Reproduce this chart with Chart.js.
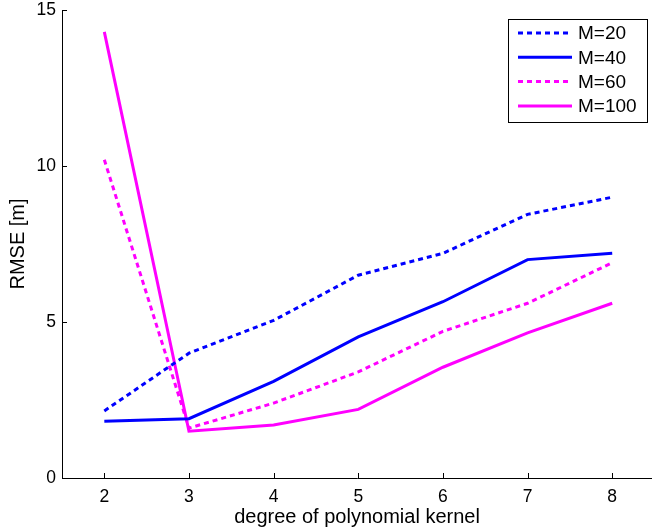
<!DOCTYPE html>
<html><head><meta charset="utf-8">
<script src="https://cdn.jsdelivr.net/npm/chart.js@4/dist/chart.umd.min.js"></script>
<style>html,body{margin:0;padding:0;background:#fff}#wrap{width:652px;height:531px}</style>
</head><body><div id="wrap"><canvas id="c" width="652" height="531"></canvas></div>
<script>
const degrees = [2, 3, 4, 5, 6, 7, 8];
const m20 = [2.15, 4.0, 5.05, 6.5, 7.2, 8.45, 9.0];
const m40 = [1.82, 1.9, 3.1, 4.52, 5.65, 7.0, 7.2];
const m60 = [10.2, 1.6, 2.4, 3.4, 4.7, 5.6, 6.9];
const m100 = [14.3, 1.5, 1.7, 2.2, 3.55, 4.65, 5.6];
const xTicks = [2, 3, 4, 5, 6, 7, 8];
const yTicks = [0, 5, 10, 15];
const seriesNames = ['M=20', 'M=40', 'M=60', 'M=100'];

const FONT = 'Liberation Sans, Arial, Helvetica, sans-serif';
const pts = arr => degrees.map((d, i) => ({x: d, y: arr[i]}));
const BLUE = '#0000ff', MAG = '#ff00ff';
const mk = (label, arr, color, dashed) => ({
  label, data: pts(arr), borderColor: color, backgroundColor: color,
  borderWidth: 3, borderDash: dashed ? [5, 4] : [], pointRadius: 0, tension: 0, fill: false
});

const axisPlugin = {
  id: 'axisTicks',
  afterDraw(chart) {
    const ctx = chart.ctx, xs = chart.scales.x, ys = chart.scales.y, a = chart.chartArea;
    ctx.save();
    ctx.strokeStyle = '#000'; ctx.lineWidth = 1;
    ctx.beginPath();
    ctx.moveTo(a.left + 0.5, a.top); ctx.lineTo(a.left + 0.5, a.bottom + 0.5); ctx.lineTo(a.right, a.bottom + 0.5);
    xTicks.forEach(v => { const px = Math.round(xs.getPixelForValue(v)) + 0.5; ctx.moveTo(px, a.bottom); ctx.lineTo(px, a.bottom - 5); });
    yTicks.forEach(v => { const py = Math.round(ys.getPixelForValue(v)) + 0.5; ctx.moveTo(a.left, py); ctx.lineTo(a.left + 5, py); });
    ctx.stroke();
    // legend box
    const bx = 508.5, by = 19.5, bw = 139, bh = 103;
    ctx.fillStyle = '#fff'; ctx.fillRect(bx, by, bw, bh);
    ctx.strokeRect(bx, by, bw, bh);
    ctx.font = '19px ' + FONT; ctx.textBaseline = 'middle'; ctx.textAlign = 'left';
    chart.data.datasets.forEach((ds, i) => {
      const y = 33 + i * 24.3;
      ctx.beginPath(); ctx.strokeStyle = ds.borderColor; ctx.lineWidth = 3;
      ctx.setLineDash(ds.borderDash);
      ctx.moveTo(518, y); ctx.lineTo(572, y); ctx.stroke();
      ctx.setLineDash([]);
      ctx.fillStyle = '#000'; ctx.fillText(ds.label, 578, y + 1);
    });
    ctx.restore();
  }
};

new Chart(document.getElementById('c'), {
  type: 'line',
  data: { datasets: [
    mk(seriesNames[0], m20, BLUE, true),
    mk(seriesNames[1], m40, BLUE, false),
    mk(seriesNames[2], m60, MAG, true),
    mk(seriesNames[3], m100, MAG, false)
  ]},
  options: {
    responsive: false, animation: false, devicePixelRatio: 1,
    layout: { padding: { top: 10, right: 0, left: 0, bottom: 0 } },
    plugins: { legend: { display: false }, tooltip: { enabled: false } },
    scales: {
      x: {
        type: 'linear', min: 1.5, max: 8.47,
        afterBuildTicks: s => { s.ticks = xTicks.map(v => ({value: v})); },
        afterFit: s => { s.height = 53; s.paddingLeft = 0; s.paddingRight = 0; },
        grid: { display: false, drawTicks: false }, border: { display: false },
        ticks: { color: '#000', font: { family: FONT, size: 17.5 }, padding: 9, maxRotation: 0 },
        title: { display: true, text: 'degree of polynomial kernel', color: '#000', font: { family: FONT, size: 20 }, padding: { top: 0, bottom: 2 } }
      },
      y: {
        type: 'linear', min: 0, max: 15,
        afterBuildTicks: s => { s.ticks = yTicks.map(v => ({value: v})); },
        afterFit: s => { s.width = 62; s.paddingTop = 0; s.paddingBottom = 0; },
        grid: { display: false, drawTicks: false }, border: { display: false },
        ticks: { color: '#000', font: { family: FONT, size: 17.5 }, padding: 6 },
        title: { display: true, text: 'RMSE [m]', color: '#000', font: { family: FONT, size: 20 }, padding: { top: 6, bottom: 0 } }
      }
    }
  },
  plugins: [axisPlugin]
});
</script></body></html>
